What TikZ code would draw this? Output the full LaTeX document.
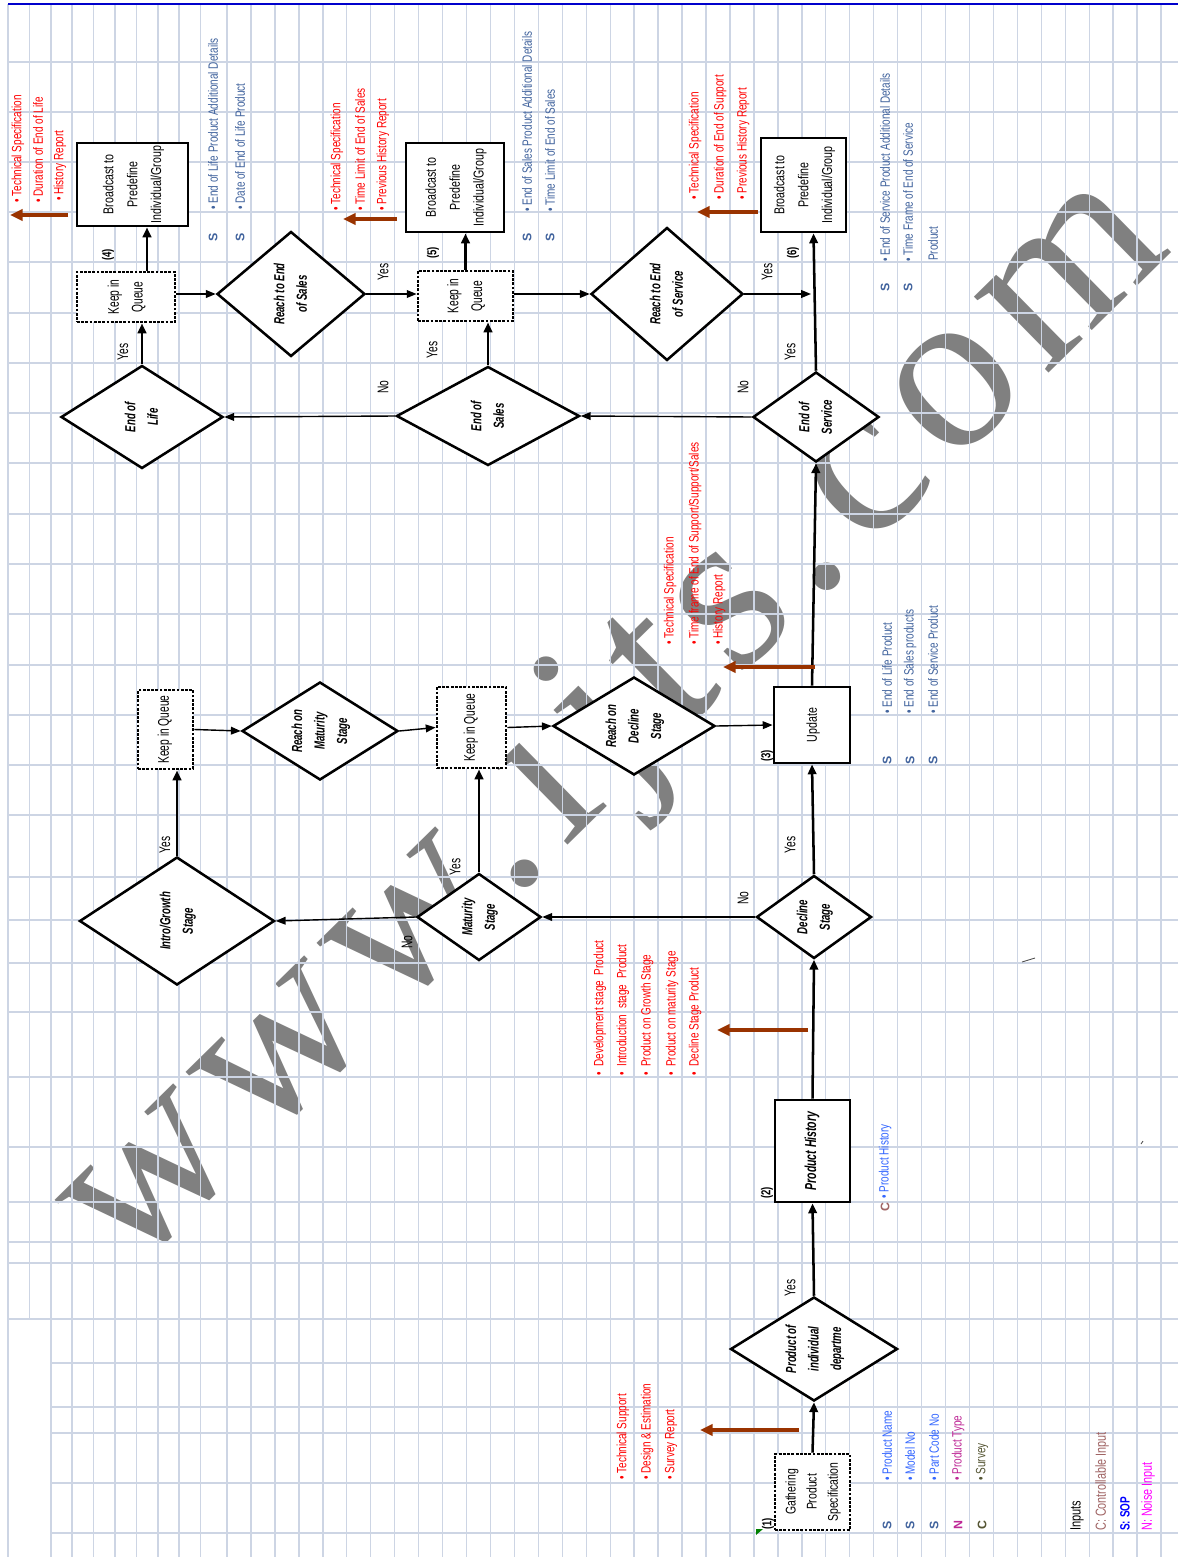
\documentclass[tikz,border=0pt]{standalone}
\usepackage{fontspec}
\setmainfont{Liberation Sans}[FakeStretch=0.74]
\newfontfamily\condfont{Liberation Sans}[FakeStretch=0.66]
\newfontfamily\plainfont{Liberation Sans}
\newfontfamily\markfont{Liberation Serif}[LetterSpace=7]
\usepackage{graphicx}
\usepackage{xcolor}
\usepackage{tikz}
\usetikzlibrary{shapes.geometric,arrows.meta,calc}
\definecolor{gridblue}{RGB}{205,213,228}
\definecolor{topblue}{RGB}{0,0,204}
\definecolor{notebrown}{RGB}{153,51,0}
\definecolor{slateblue}{RGB}{66,100,158}
\definecolor{listblue}{RGB}{51,102,255}
\definecolor{ctrlbrown}{RGB}{160,100,100}
\definecolor{typepurple}{RGB}{190,40,150}
\definecolor{surveyolive}{RGB}{85,85,51}
\definecolor{noisemag}{RGB}{255,0,255}
\definecolor{markgray}{RGB}{128,128,128}
\newcommand{\uptext}[1]{\rotatebox{90}{\begin{tabular}{@{}c@{}}#1\end{tabular}}}
\tikzset{
    gridline/.style={draw=gridblue, line width=1pt},
    topline/.style={draw=topblue, line width=1.4pt},
    wmark/.style={rotate=44.5, anchor=base west, inner sep=0pt, text=markgray, font=\markfont\fontsize{165}{165}\selectfont},
    procbox/.style 2 args={rectangle, draw, line width=2pt, fill=white, inner sep=0pt, minimum width=#1*0.025cm, minimum height=#2*0.025cm, font=\fontsize{10.2}{17}\selectfont},
    queuebox/.style 2 args={procbox={#1}{#2}, dash pattern=on 2pt off 1pt, font=\condfont\fontsize{11}{17}\selectfont},
    decision/.style 2 args={diamond, aspect=1.5, draw, line width=1.8pt, fill=white, inner sep=0pt, minimum width=#1*0.025cm, minimum height=#2*0.025cm, font=\condfont\bfseries\itshape\fontsize{10.4}{16}\selectfont},
    flow/.style={-{Triangle[length=7pt,width=6pt]}, line width=1.8pt},
    thinflow/.style={-{Triangle[length=7pt,width=5.5pt]}, line width=1pt},
    notearrow/.style={-{Triangle[length=9pt,width=8pt]}, line width=2.8pt, draw=notebrown},
    note/.style={rotate=90, anchor=west, inner sep=0pt, text=red, font=\fontsize{9.6}{10}\selectfont},
    slist/.style={note, text=slateblue},
    code/.style={rotate=90, inner sep=0pt, text=slateblue, font=\plainfont\bfseries\fontsize{8.8}{9}\selectfont},
    answer/.style={rotate=90, inner sep=0pt, font=\condfont\fontsize{11}{12}\selectfont},
    stepnum/.style={rotate=90, inner sep=0pt, font=\bfseries\fontsize{9.2}{10}\selectfont}
}

\begin{document}
\begin{tikzpicture}[x=0.025cm, y=-0.025cm]
    \path[use as bounding box, fill=white] (0,0) rectangle (1178,1557);
    \node[wmark] (wm) at (129,1277) {www.ijts.com};

    \foreach \gx in {8,50.8,72.2,93.6,115,136.4,157.8,179.2,200.6}
        \draw[gridline] (\gx,4) -- (\gx,1557);
    \draw[gridline] (29.4,4) -- (29.4,1319);
    \foreach \k in {0,...,39}
        \draw[gridline] ({227+23.95*\k},4) -- ({227+23.95*\k},1557);
    \foreach \gy in {62,112,162,212,262,313,363,413,463,514,564,614,665,715,765,815,877,920,963,1012,1077,1147,1202,1242,1263,1319}
        \draw[gridline] (8,\gy) -- (1178,\gy);
    \foreach \gy in {1363,1407,1433,1483,1533}
        \draw[gridline] (50.8,\gy) -- (1178,\gy);
    \draw[topline] (8,4) -- (1178,4);

    \node[queuebox={75}{76}, font=\fontsize{10}{15}\selectfont] (gath) at (812.5,1492) {\uptext{Gathering\\Product\\Specification}};
    \node[procbox={75}{102}, font=\condfont\bfseries\itshape\fontsize{11.3}{13}\selectfont] (hist) at (812.5,1151) {\uptext{Product History}};
    \node[procbox={76}{76}] (upd) at (812,725) {\uptext{Update}};
    \node[queuebox={55}{79}, font=\condfont\fontsize{11}{12}\selectfont] (kqa) at (165.5,729.5) {\uptext{Keep in Queue}};
    \node[queuebox={69}{81}, font=\condfont\fontsize{11}{12}\selectfont] (kqb) at (471.5,727.5) {\uptext{Keep in Queue}};
    \node[queuebox={98}{50}] (kq4) at (126,297) {\uptext{Keep in\\Queue}};
    \node[queuebox={95}{50}] (kq5) at (465.5,296) {\uptext{Keep in\\Queue}};
    \node[procbox={111}{83}] (bc4) at (132.5,184.5) {\uptext{Broadcast to\\Predefine\\Individual/Group}};
    \node[procbox={98}{89}] (bc5) at (455,187.5) {\uptext{Broadcast to\\Predefine\\Individual/Group}};
    \node[procbox={85}{94}] (bc6) at (803.5,185) {\uptext{Broadcast to\\Predefine\\Individual/Group}};

    \node[decision={167}{104}] (prod) at (814,1349) {\uptext{Product of\\individual\\departme}};
    \node[decision={115}{83}] (decl) at (814,917) {\uptext{Decline\\Stage}};
    \node[decision={124}{87}] (matu) at (479,917) {\uptext{Maturity\\Stage}};
    \node[decision={195}{128}] (intro) at (177,921) {\uptext{Intro/Growth\\Stage}};
    \node[decision={156}{98}] (rmat) at (320,731) {\uptext{Reach on\\Maturity\\Stage}};
    \node[decision={162}{98}] (rdec) at (634,726) {\uptext{Reach on\\Decline\\Stage}};
    \node[decision={126}{90}] (eos) at (816,417) {\uptext{End of\\Service}};
    \node[decision={183}{99}] (esal) at (488,416) {\uptext{End of\\Sales}};
    \node[decision={162}{103}] (elife) at (142,417) {\uptext{End of\\Life}};
    \node[decision={148}{125}] (rsal) at (291,294) {\uptext{Reach to End\\of Sales}};
    \node[decision={152}{133}] (rser) at (667,294) {\uptext{Reach to End\\of Service}};

    \coordinate (kq4up) at ($(kq4.north)+(21,0)$);
    \coordinate (bc6in) at ($(bc6.south)+(10,0)$);
    \coordinate (tap6) at (811,294);

    \draw[flow] (gath.north) -- (prod.south);
    \draw[flow] (prod.north) -- (hist.south);
    \draw[flow] (hist.north) -- (decl.south);
    \draw[flow] (decl.north) -- (upd.south);
    \draw[flow] (upd.north) -- (eos.south);
    \draw[flow] (eos.north) -- (bc6in);
    \draw[thinflow] (eos.west) -- (esal.east);
    \draw[thinflow] (esal.west) -- (elife.east);
    \draw[flow] (esal.north) -- (esal.north |- kq5.south);
    \draw[flow] (elife.north) -- (elife.north |- kq4.south);
    \draw[flow] (kq4up) -- (kq4up |- bc4.south);
    \draw[flow] (kq5.north) -- (kq5.north |- bc5.south);
    \draw[thinflow] (kq4.east |- rsal.west) -- (rsal.west);
    \draw[thinflow] (rsal.east) -- (rsal.east -| kq5.west);
    \draw[thinflow] (kq5.east |- rser.west) -- (rser.west);
    \draw[thinflow] (rser.east) -- (tap6);
    \draw[thinflow] (decl.west) -- (matu.east);
    \draw[thinflow] (matu.west) -- (intro.east);
    \draw[flow] (intro.north) -- (intro.north |- kqa.south);
    \draw[thinflow] (kqa.east) -- (rmat.west);
    \draw[thinflow] (rmat.east) -- (kqb.west);
    \draw[flow] (matu.north) -- (matu.north |- kqb.south);
    \draw[thinflow] (kqb.east) -- (rdec.west);
    \draw[thinflow] (rdec.east) -- (upd.west);

    \node[answer] (yes1) at (790,1288) {Yes};
    \node[answer] (yes2) at (790,845) {Yes};
    \node[answer] (yes3) at (455,867) {Yes};
    \node[answer] (yes4) at (165,845) {Yes};
    \node[answer] (yes5) at (790,352) {Yes};
    \node[answer] (yes6) at (767,272) {Yes};
    \node[answer] (yes7) at (432,350) {Yes};
    \node[answer] (yes8) at (383,272) {Yes};
    \node[answer] (yes9) at (123,352) {Yes};
    \node[answer] (no1) at (743,898) {No};
    \node[answer] (no2) at (407,942) {No};
    \node[answer] (no3) at (743,387) {No};
    \node[answer] (no4) at (383,387) {No};

    \node[stepnum] (num1) at (768,1524) {(1)};
    \node[stepnum] (num2) at (767,1193) {(2)};
    \node[stepnum] (num3) at (767,756) {(3)};
    \node[stepnum] (num4) at (108,255) {(4)};
    \node[stepnum] (num5) at (433,253) {(5)};
    \node[stepnum] (num6) at (793,253) {(6)};
    \fill[green!50!black] (756,1529) -- (763,1529) -- (756,1535) -- cycle;

    \coordinate (n1s) at (799,1430);
    \coordinate (n1e) at (700,1430);
    \coordinate (n2s) at (808,1030);
    \coordinate (n2e) at (717,1030);
    \coordinate (n3s) at (815,667);
    \coordinate (n3e) at (723,667);
    \coordinate (n4s) at (68,215);
    \coordinate (n4e) at (10,215);
    \coordinate (n5s) at (397,219);
    \coordinate (n5e) at (343,219);
    \coordinate (n6s) at (758,212);
    \coordinate (n6e) at (697,212);
    \draw[notearrow] (n1s) -- (n1e);
    \draw[notearrow] (n2s) -- (n2e);
    \draw[notearrow] (n3s) -- (n3e);
    \draw[notearrow] (n4s) -- (n4e);
    \draw[notearrow] (n5s) -- (n5e);
    \draw[notearrow] (n6s) -- (n6e);

    \node[note] (t1a) at (623,1480) {• Technical Support};
    \node[note] (t1b) at (647,1480) {• Design \& Estimation};
    \node[note] (t1c) at (671,1480) {• Survey Report};
    \node[note] (t2a) at (600,1076) {•\ \ Development stage\ \ Product};
    \node[note] (t2b) at (623,1076) {•\ \ Introduction\ \ stage\ \ Product};
    \node[note] (t2c) at (647,1076) {•\ \ Product on Growth Stage};
    \node[note] (t2d) at (672,1076) {•\ \ Product on maturity Stage};
    \node[note] (t2e) at (695,1076) {•\ \ Decline Stage Product};
    \node[note] (t3a) at (670,645) {• Technical Specification};
    \node[note] (t3b) at (695,645) {• Time frame of End of Support/Support/Sales};
    \node[note] (t3c) at (719,645) {• History Report};
    \node[note] (t4a) at (18,203) {• Technical Specification};
    \node[note] (t4b) at (38,203) {• Duration of End of Life};
    \node[note] (t4c) at (60,201) {• History Report};
    \node[note] (t5a) at (337,211) {• Technical Specification};
    \node[note] (t5b) at (360,211) {• Time Limit of End of Sales};
    \node[note] (t5c) at (383,211) {• Previous History Report};
    \node[note] (t6a) at (695,200) {• Technical Specification};
    \node[note] (t6b) at (720,200) {• Duration of End of Support};
    \node[note] (t6c) at (743,200) {• Previous History Report};

    \node[code] (s4a) at (213,237) {S};
    \node[code] (s4b) at (240,237) {S};
    \node[slist] (d4a) at (213,210) {• End of Life Product Additional Details};
    \node[slist] (d4b) at (240,210) {• Date of End of Life Product};
    \node[code] (s5a) at (527,237) {S};
    \node[code] (s5b) at (550,237) {S};
    \node[slist] (d5a) at (527,212) {• End of Sales Product Additional Details};
    \node[slist] (d5b) at (550,212) {• Time Limit of End of Sales};
    \node[code] (s6a) at (885,287) {S};
    \node[code] (s6b) at (908,287) {S};
    \node[slist] (d6a) at (885,262) {• End of Service Product Additional Details};
    \node[slist] (d6b) at (908,262) {• Time Frame of End of Service};
    \node[slist] (d6c) at (933,261) {Product};
    \node[code] (s3a) at (887,760) {S};
    \node[code] (s3b) at (910,760) {S};
    \node[code] (s3c) at (933,760) {S};
    \node[slist] (d3a) at (887,714) {• End of Life Product};
    \node[slist] (d3b) at (910,714) {• End of Sales products};
    \node[slist] (d3c) at (933,714) {• End of Service Product};
    \node[code, text=ctrlbrown] (c2a) at (885,1207) {C};
    \node[note, text=listblue] (d2a) at (885,1199) {• Product History};
    \node[code] (s1a) at (887,1525) {S};
    \node[code] (s1b) at (910,1525) {S};
    \node[code] (s1c) at (934,1525) {S};
    \node[code, text=typepurple] (s1d) at (958,1525) {N};
    \node[code, text=surveyolive] (s1e) at (982,1525) {C};
    \node[note, text=listblue] (d1a) at (887,1481) {• Product Name};
    \node[note, text=listblue] (d1b) at (910,1481) {• Model No};
    \node[note, text=listblue] (d1c) at (934,1481) {• Part Code No};
    \node[note, text=typepurple] (d1d) at (958,1481) {• Product Type};
    \node[note, text=surveyolive] (d1e) at (982,1481) {• Survey};

    \node[note, text=black, font=\fontsize{10.6}{11}\selectfont] (inp) at (1077,1531) {Inputs};
    \node[note, text=ctrlbrown, font=\fontsize{10.4}{11}\selectfont] (inc) at (1102,1531) {C: Controllable Input};
    \node[note, text=blue, font=\bfseries\fontsize{9.6}{11}\selectfont] (ins) at (1125,1531) {S: SOP};
    \node[note, text=noisemag, font=\fontsize{10.4}{11}\selectfont] (inn) at (1148,1531) {N: Noise Input};

    \draw[black!70, line width=0.6pt] (1022,962) -- (1035,958);
    \draw[black!70, line width=0.6pt] (1141,1144) -- (1143,1141);
\end{tikzpicture}
\end{document}
